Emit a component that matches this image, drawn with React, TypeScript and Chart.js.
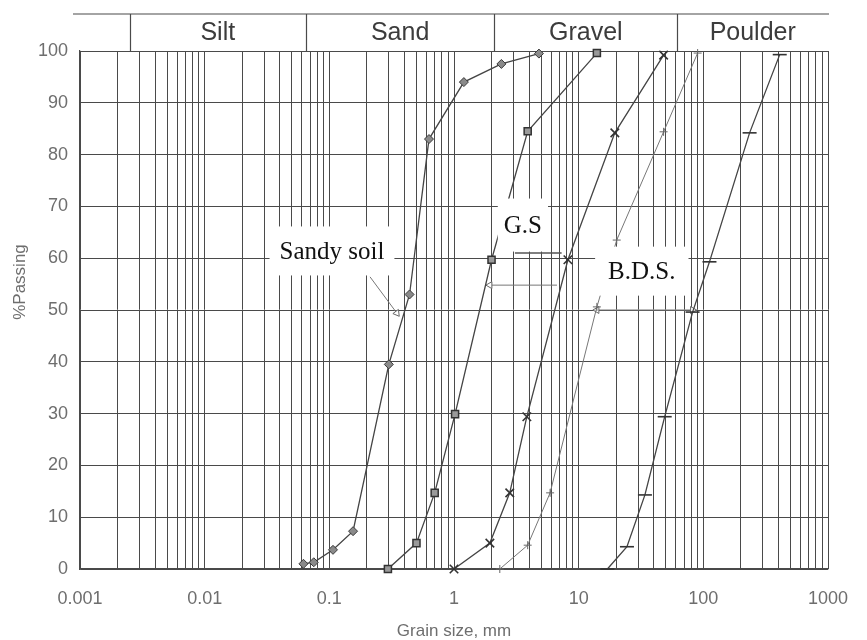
import { useEffect, useRef } from 'react';
import { Chart, registerables } from 'chart.js';

Chart.register(...registerables);

// ---- data (grain size in mm, % passing) ----
const sandySize = [0.062, 0.075, 0.107, 0.155, 0.3, 0.44, 0.63, 1.2, 2.4, 4.8];
const sandyPassing = [1, 1.3, 3.7, 7.3, 39.5, 53, 83, 94, 97.5, 99.5];

const gsSize = [0.295, 0.5, 0.7, 1.02, 2.0, 3.9, 14];
const gsPassing = [0, 5, 14.7, 29.9, 59.7, 84.5, 99.6];

const gravelSize = [1.0, 1.94, 2.8, 3.84, 8.2, 19.5, 48];
const gravelPassing = [0, 5, 14.7, 29.4, 59.7, 84.2, 99.2];

const bdsSize = [2.33, 3.9, 5.9, 14, 20.2, 48, 90];
const bdsPassing = [0, 4.6, 14.7, 50.6, 63.5, 84.4, 99.6];

const boulderSize = [17, 24.4, 34, 49, 82, 112, 235, 410];
const boulderPassing = [0, 4.3, 14.3, 29.4, 49.6, 59.3, 84.2, 99.3];

// annotation pointer lines
const sandyArrowSize = [0.212, 0.348];
const sandyArrowPassing = [56.4, 49.4];
const gsArrowSize = [3.08, 7.3];
const gsArrowPassing = [61, 61];
const gapArrowSize = [1.94, 6.7];
const gapArrowPassing = [54.8, 54.8];
const bdsArrowSize = [14, 82];
const bdsArrowPassing = [50, 50];

// axes
const xMajorTicks = [0.001, 0.01, 0.1, 1, 10, 100, 1000];
const xTickLabels = ['0.001', '0.01', '0.1', '1', '10', '100', '1000'];
const yTickValues = [0, 10, 20, 30, 40, 50, 60, 70, 80, 90, 100];

// soil classes across the top
const classBounds = [0.0025, 0.065, 2.1, 62, 1000];
const classNames = ['Silt', 'Sand', 'Gravel', 'Poulder'];

// text labels placed on the chart
const noteTexts = ['Sandy soil', 'G.S', 'B.D.S.'];
const noteSize = [0.105, 3.57, 32.1];
const notePassing = [61.4, 66.4, 57.5];

const pts = (xs: number[], ys: number[]) => xs.map((x, i) => ({ x, y: ys[i] }));

const gridValues: number[] = [];
for (let d = 0; d < xMajorTicks.length - 1; d++) {
  for (let m = 1; m <= 9; m++) gridValues.push(Number((m * xMajorTicks[d]).toPrecision(3)));
}
gridValues.push(xMajorTicks[xMajorTicks.length - 1]);

const SANS = '"Liberation Sans", Arial, sans-serif';
const SERIF = '"Liberation Serif", "Times New Roman", serif';

const overlayPlugin = {
  id: 'overlay',
  afterDraw(chart: any) {
    const { ctx, chartArea, scales } = chart;
    const xs = scales.x;
    const ys = scales.y;
    ctx.save();
    // header band
    const headTop = 14;
    ctx.strokeStyle = '#4a4a4a';
    ctx.lineWidth = 1.2;
    ctx.beginPath();
    ctx.moveTo(chartArea.left - 7, headTop);
    ctx.lineTo(chartArea.right + 1, headTop);
    for (let i = 0; i < classBounds.length - 1; i++) {
      const px = Math.round(xs.getPixelForValue(classBounds[i])) + 0.5;
      ctx.moveTo(px, headTop);
      ctx.lineTo(px, chartArea.top);
    }
    ctx.stroke();
    ctx.fillStyle = '#3c3c3c';
    ctx.font = `25px ${SANS}`;
    ctx.textAlign = 'center';
    ctx.textBaseline = 'middle';
    for (let i = 0; i < classNames.length; i++) {
      const a = Math.log10(classBounds[i]);
      const b = Math.log10(classBounds[i + 1]);
      const px = xs.getPixelForValue(Math.pow(10, (a + b) / 2));
      ctx.fillText(classNames[i], px, 33);
    }
    // y axis title
    ctx.save();
    ctx.translate(20, 282);
    ctx.rotate(-Math.PI / 2);
    ctx.fillStyle = '#6e6e6e';
    ctx.font = `17px ${SANS}`;
    ctx.fillText('%Passing', 0, 0);
    ctx.restore();
    // note boxes
    const boxPad = [[10, 12], [6, 14], [13, 12]];
    ctx.font = `25px ${SERIF}`;
    for (let i = 0; i < noteTexts.length; i++) {
      const cx = xs.getPixelForValue(noteSize[i]);
      const cy = ys.getPixelForValue(notePassing[i]);
      const w = ctx.measureText(noteTexts[i]).width;
      const h = 25;
      ctx.fillStyle = '#ffffff';
      ctx.fillRect(cx - w / 2 - boxPad[i][0], cy - h / 2 - boxPad[i][1], w + 2 * boxPad[i][0], h + 2 * boxPad[i][1]);
      ctx.fillStyle = '#111111';
      ctx.fillText(noteTexts[i], cx, cy + 1);
    }
    ctx.restore();
  },
};

export default function App() {
  const ref = useRef<HTMLCanvasElement>(null);
  useEffect(() => {
    if (!ref.current) return;
    const curve = (label: string, xs: number[], ys: number[], o: any) => ({
      label,
      data: pts(xs, ys),
      showLine: true,
      tension: 0,
      clip: false,
      fill: false,
      ...o,
    });
    const chart = new Chart(ref.current, {
      type: 'line',
      data: {
        datasets: [
          curve('Sandy soil', sandySize, sandyPassing, {
            borderColor: '#444', borderWidth: 1.3, pointStyle: 'rectRot', pointRadius: 4.5,
            pointBackgroundColor: '#8a8a8a', pointBorderColor: '#3a3a3a', pointBorderWidth: 1,
          }),
          curve('G.S', gsSize, gsPassing, {
            borderColor: '#444', borderWidth: 1.3, pointStyle: 'rect', pointRadius: 5,
            pointBackgroundColor: '#9a9a9a', pointBorderColor: '#333', pointBorderWidth: 1.5,
          }),
          curve('Gravel soil', gravelSize, gravelPassing, {
            borderColor: '#444', borderWidth: 1.3, pointStyle: 'crossRot', pointRadius: 6,
            pointBorderColor: '#333', pointBorderWidth: 1.6,
          }),
          curve('B.D.S.', bdsSize, bdsPassing, {
            borderColor: '#777', borderWidth: 1, pointStyle: 'cross', pointRadius: 4,
            pointBorderColor: '#666', pointBorderWidth: 1,
          }),
          curve('Boulder', boulderSize, boulderPassing, {
            borderColor: '#444', borderWidth: 1.3, pointStyle: 'line', pointRadius: 7,
            pointBorderColor: '#333', pointBorderWidth: 1.6,
          }),
          curve('sandy pointer', sandyArrowSize, sandyArrowPassing, {
            borderColor: '#777', borderWidth: 1, pointStyle: 'triangle', pointRadius: [0, 4],
            pointRotation: 143, pointBackgroundColor: '#fff', pointBorderColor: '#666', pointBorderWidth: 1,
          }),
          curve('gs pointer', gsArrowSize, gsArrowPassing, {
            borderColor: '#555', borderWidth: 1.4, pointRadius: 0,
          }),
          curve('gap arrow', gapArrowSize, gapArrowPassing, {
            borderColor: '#777', borderWidth: 1, pointStyle: 'triangle', pointRadius: [4, 0],
            pointRotation: 270, pointBackgroundColor: '#fff', pointBorderColor: '#666', pointBorderWidth: 1,
          }),
          curve('bds arrow', bdsArrowSize, bdsArrowPassing, {
            borderColor: '#777', borderWidth: 1, pointStyle: 'triangle', pointRadius: [4, 4],
            pointRotation: [270, 90], pointBackgroundColor: '#fff', pointBorderColor: '#666', pointBorderWidth: 1,
          }),
        ],
      },
      options: {
        responsive: false,
        animation: false,
        devicePixelRatio: 1,
        events: [],
        layout: { padding: { top: 51, right: 39, left: 0, bottom: 0 } },
        plugins: { legend: { display: false }, tooltip: { enabled: false }, title: { display: false } },
        scales: {
          x: {
            type: 'logarithmic',
            min: 0.001,
            max: 1000,
            afterBuildTicks: (s: any) => {
              s.ticks = gridValues.map((v) => ({ value: v }));
            },
            afterFit: (s: any) => {
              s.height = 71;
              s.paddingLeft = 0;
              s.paddingRight = 0;
            },
            grid: { color: '#4a4a4a', lineWidth: 1, drawTicks: false },
            border: { display: true, color: '#4a4a4a', width: 1.2 },
            ticks: {
              autoSkip: false,
              maxRotation: 0,
              minRotation: 0,
              padding: 19,
              color: '#6e6e6e',
              font: { family: SANS, size: 18 },
              callback: (value: any) => {
                const v = Number(value);
                const idx = xMajorTicks.findIndex((t) => Math.abs(Math.log10(t) - Math.log10(v)) < 1e-6);
                return idx >= 0 ? xTickLabels[idx] : '';
              },
            },
            title: {
              display: true,
              text: 'Grain size, mm',
              color: '#6e6e6e',
              font: { family: SANS, size: 17, lineHeight: 1 },
              padding: { top: 0, bottom: 0 },
            },
          },
          y: {
            type: 'linear',
            min: 0,
            max: 100,
            afterBuildTicks: (s: any) => {
              s.ticks = yTickValues.map((v) => ({ value: v }));
            },
            afterFit: (s: any) => {
              s.width = 80;
              s.paddingTop = 0;
              s.paddingBottom = 0;
            },
            grid: { color: '#4a4a4a', lineWidth: 1, drawTicks: false },
            border: { display: true, color: '#4a4a4a', width: 1.2 },
            ticks: {
              padding: 12,
              color: '#6e6e6e',
              font: { family: SANS, size: 18 },
              callback: (v: any) => String(v),
            },
          },
        },
      },
      plugins: [overlayPlugin],
    } as any);
    return () => chart.destroy();
  }, []);
  return (
    <div style={{ position: 'fixed', left: 0, top: 0, width: 867, height: 640, background: '#fff' }}>
      <canvas ref={ref} width={867} height={640} style={{ display: 'block' }} />
    </div>
  );
}
